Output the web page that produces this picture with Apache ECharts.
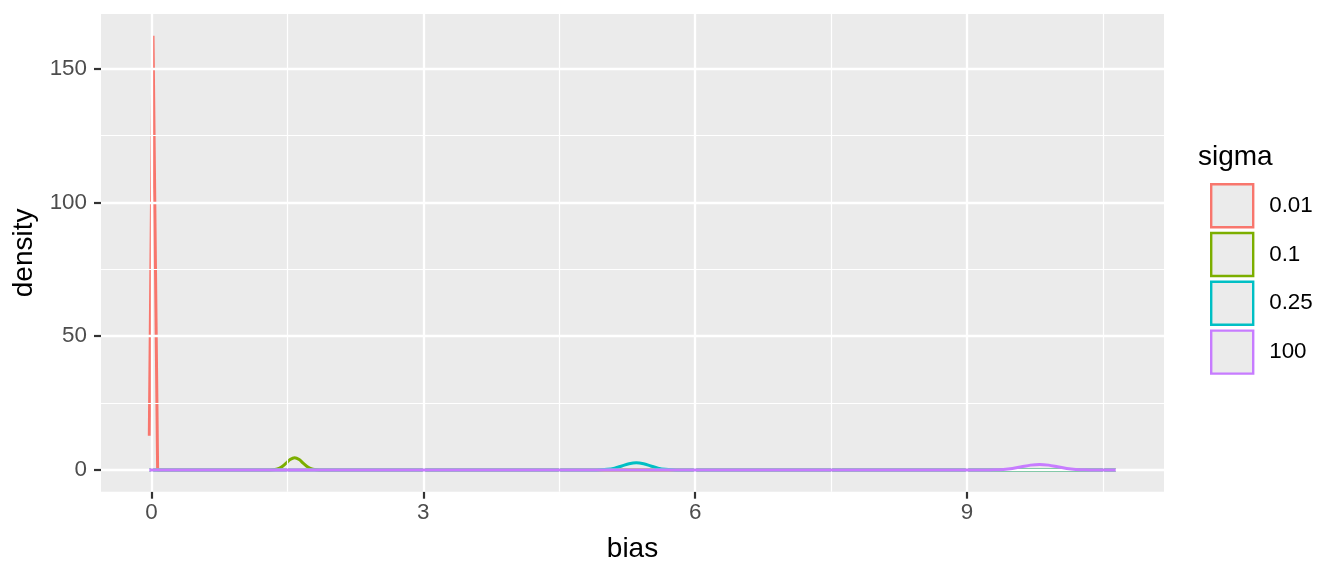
<!DOCTYPE html>
<html>
<head>
<meta charset="utf-8">
<script src="https://cdn.jsdelivr.net/npm/echarts@6/dist/echarts.min.js"></script>
<style>
html,body{margin:0;padding:0;background:#fff;}
#chart{width:1344px;height:576px;}
</style>
</head>
<body>
<div id="chart"></div>
<script>
// ---- data ----
const sigmaLevels = ['0.01', '0.1', '0.25', '100'];
const sigmaColors = ['#F8766D', '#7CAE00', '#00BFC4', '#C77CFF'];

const biasR = [-0.024, 0.017, 0.068, 10.64];
const densR = [12.8, 162.3, 0, 0];

const biasG = [-0.024, 1.28, 1.33, 1.38, 1.43, 1.48, 1.53, 1.58, 1.63, 1.68, 1.73, 1.78, 1.83, 1.88, 10.64];
const densG = [0, 0, 0.07, 0.33, 1.04, 2.38, 3.9, 4.6, 3.9, 2.38, 1.04, 0.33, 0.07, 0, 0];

const biasT = [-0.024, 4.87, 4.95, 5.03, 5.11, 5.19, 5.27, 5.35, 5.43, 5.51, 5.59, 5.67, 5.75, 5.83, 10.64];
const densT = [0, 0, 0.07, 0.26, 0.72, 1.50, 2.33, 2.7, 2.33, 1.50, 0.72, 0.26, 0.07, 0, 0];

const biasP = [-0.024, 9.2, 9.3, 9.4, 9.5, 9.6, 9.7, 9.8, 9.9, 10.0, 10.1, 10.2, 10.3, 10.4, 10.64];
const densP = [0, 0, 0.07, 0.23, 0.60, 1.21, 1.83, 2.1, 1.83, 1.21, 0.60, 0.23, 0.07, 0, 0];

const xTicks = [0, 3, 6, 9];
const xMinor = [1.5, 4.5, 7.5, 10.5];
const yTicks = [0, 50, 100, 150];
const yMinor = [25, 75, 125];

const xRange = [-0.557, 11.173];
const yRange = [-8.1, 170.4];

// ---- build ----
const FONT = 'Liberation Sans, Arial, Helvetica, sans-serif';
const zip = (xs, ys) => xs.map((x, i) => [x, ys[i]]);
const seriesX = [biasR, biasG, biasT, biasP];
const seriesY = [densR, densG, densT, densP];

const gridLines = [];
xMinor.forEach(v => gridLines.push({xAxis: v, lineStyle: {width: 1.2}}));
yMinor.forEach(v => gridLines.push({yAxis: v, lineStyle: {width: 1.2}}));
xTicks.forEach(v => gridLines.push({xAxis: v, lineStyle: {width: 2.3}}));
yTicks.forEach(v => gridLines.push({yAxis: v, lineStyle: {width: 2.3}}));

const series = [{
  name: '__grid',
  type: 'line',
  data: [],
  z: 1,
  silent: true,
  markLine: {
    silent: true,
    symbol: ['none', 'none'],
    label: {show: false},
    animation: false,
    lineStyle: {color: '#ffffff', type: 'solid'},
    emphasis: {disabled: true},
    data: gridLines
  }
}];
sigmaLevels.forEach((name, i) => {
  series.push({
    name: name,
    type: 'line',
    z: 2 + i,
    data: zip(seriesX[i], seriesY[i]),
    showSymbol: false,
    symbol: 'none',
    smooth: i === 0 ? false : 0.3,
    lineStyle: {color: sigmaColors[i], width: 3},
    itemStyle: {color: sigmaColors[i]},
    animation: false
  });
});

const chart = echarts.init(document.getElementById('chart'));
chart.setOption({
  backgroundColor: '#ffffff',
  animation: false,
  textStyle: {fontFamily: FONT},
  title: {
    text: 'sigma',
    left: 1198,
    top: 143,
    padding: 0,
    textStyle: {fontFamily: FONT, fontSize: 28, fontWeight: 'normal', color: '#000'}
  },
  legend: {
    orient: 'vertical',
    left: 1210,
    top: 183,
    padding: 0,
    itemWidth: 42,
    itemHeight: 43,
    itemGap: 3.4,
    icon: 'rect',
    selectedMode: false,
    data: sigmaLevels.map((n, i) => ({
      name: n,
      itemStyle: {color: '#ebebeb', borderColor: sigmaColors[i], borderWidth: 2.4}
    })),
    textStyle: {fontFamily: FONT, fontSize: 22.4, color: '#000', padding: [0, 0, 0, 11]}
  },
  grid: {left: 101, right: 180, top: 14, bottom: 84.3, containLabel: false,
         show: true, backgroundColor: '#ebebeb', borderWidth: 0},
  xAxis: {
    type: 'value',
    min: xRange[0],
    max: xRange[1],
    name: 'bias',
    nameLocation: 'middle',
    nameGap: 44,
    nameTextStyle: {fontFamily: FONT, fontSize: 28, color: '#000'},
    axisLine: {show: false, onZero: false},
    axisTick: {show: true, customValues: xTicks, length: 7, lineStyle: {color: '#333333', width: 2.2}},
    axisLabel: {customValues: xTicks, margin: 10, fontFamily: FONT, fontSize: 22.4, color: '#4d4d4d'},
    splitLine: {show: false},
    minorSplitLine: {show: false}
  },
  yAxis: {
    type: 'value',
    min: yRange[0],
    max: yRange[1],
    name: 'density',
    nameLocation: 'middle',
    nameGap: 61,
    nameRotate: 90,
    nameTextStyle: {fontFamily: FONT, fontSize: 28, color: '#000'},
    axisLine: {show: false, onZero: false},
    axisTick: {show: true, customValues: yTicks, length: 7, lineStyle: {color: '#333333', width: 2.2}},
    axisLabel: {customValues: yTicks, margin: 14, fontFamily: FONT, fontSize: 22.4, color: '#4d4d4d'},
    splitLine: {show: false},
    minorSplitLine: {show: false}
  },
  series: series
});
</script>
</body>
</html>
